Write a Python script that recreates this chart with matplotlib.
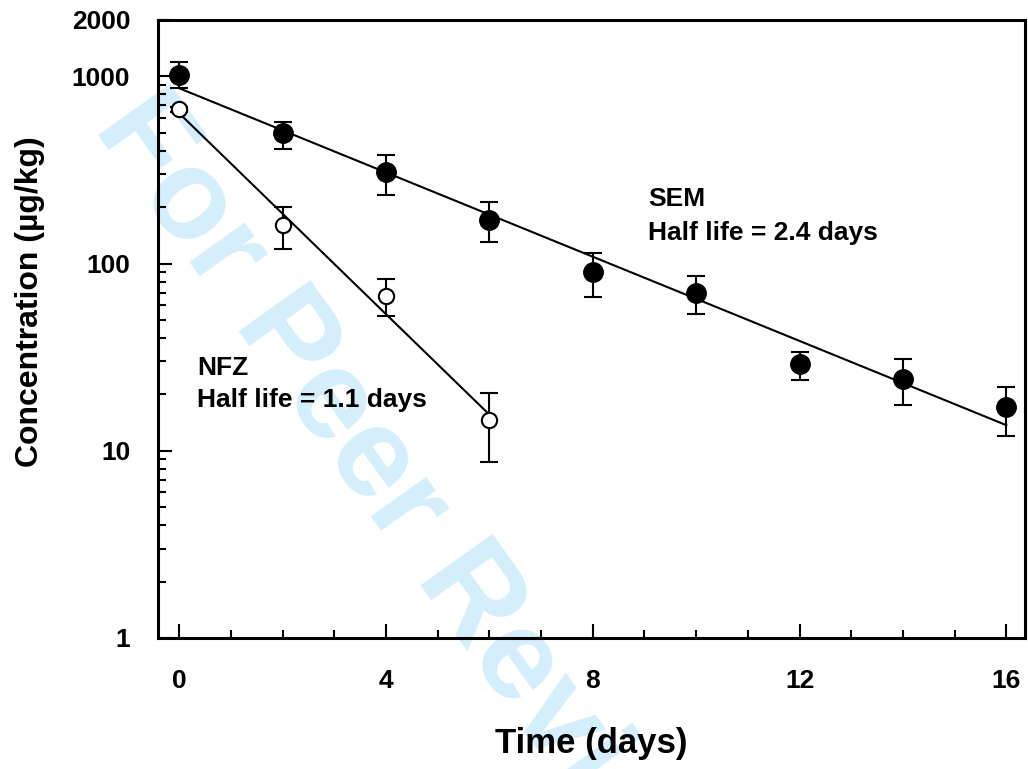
import matplotlib.pyplot as plt
from matplotlib.ticker import LogLocator, NullFormatter, FixedLocator

plt.rcParams['font.family'] = ['Liberation Sans', 'DejaVu Sans']
plt.rcParams['font.weight'] = 'bold'

# SEM (filled circles)
sem_t = [0, 2, 4, 6, 8, 10, 12, 14, 16]
sem_c = [1014, 497, 308, 171, 90, 69.5, 29, 24.1, 17.1]
sem_hi = [1190, 569, 379, 213, 114, 86, 33.6, 30.9, 21.9]
sem_lo = [864, 408, 232, 130, 66, 54, 23.8, 17.5, 12.0]

# NFZ (open circles)
nfz_t = [0, 2, 4, 6]
nfz_c = [667, 160, 67, 14.6]
nfz_hi = [690, 200, 82.6, 20.3]
nfz_lo = [645, 119, 52.4, 8.7]

# fitted first-order decay lines (end points)
sem_fit_t = [0, 16]
sem_fit_c = [864, 13.7]
nfz_fit_t = [0, 6]
nfz_fit_c = [635, 15.6]

fig = plt.figure(figsize=(10.28, 7.69), dpi=100)
ax = fig.add_axes([0.1537, 0.1704, 0.8433, 0.8036])
ax.set_facecolor('none')

# watermark, behind everything
fig.text(0.090, 0.834, 'For Peer Review', fontsize=92, color='#d4eefb',
         rotation=-54.5, rotation_mode='anchor', ha='left', va='baseline',
         fontweight='bold', zorder=-1)

ax.plot(sem_fit_t, sem_fit_c, color='black', lw=1.5, zorder=2)
ax.plot(nfz_fit_t, nfz_fit_c, color='black', lw=1.5, zorder=2)

sem_err = [[c - l for c, l in zip(sem_c, sem_lo)], [h - c for c, h in zip(sem_c, sem_hi)]]
nfz_err = [[c - l for c, l in zip(nfz_c, nfz_lo)], [h - c for c, h in zip(nfz_c, nfz_hi)]]

ax.errorbar(sem_t, sem_c, yerr=sem_err, fmt='o', color='black', ms=14,
            mfc='black', mec='black', ecolor='black', elinewidth=1.5,
            capsize=6.5, capthick=1.5, zorder=3)
ax.errorbar(nfz_t, nfz_c, yerr=nfz_err, fmt='o', color='black', ms=11,
            mfc='white', mec='black', mew=1.5, ecolor='black', elinewidth=1.5,
            capsize=6.5, capthick=1.5, zorder=3)

ax.set_yscale('log')
ax.set_ylim(1, 2000)
ax.set_xlim(-0.41, 16.36)

ax.xaxis.set_major_locator(FixedLocator([0, 4, 8, 12, 16]))
ax.xaxis.set_minor_locator(FixedLocator(range(0, 17)))
ax.yaxis.set_major_locator(FixedLocator([1, 10, 100, 1000, 2000]))
ax.yaxis.set_minor_locator(LogLocator(base=10, subs=range(2, 10)))
ax.yaxis.set_minor_formatter(NullFormatter())
ax.set_yticklabels(['1', '10', '100', '1000', '2000'])
ax.set_xticklabels(['0', '4', '8', '12', '16'])

ax.tick_params(which='major', direction='in', length=10, width=1.5,
               labelsize=19, pad=22)
ax.tick_params(which='minor', direction='in', length=6, width=1.5)
ax.tick_params(axis='y', which='major', pad=20)
for s in ax.spines.values():
    s.set_linewidth(2.2)

ax.set_xlabel('Time (days)', fontsize=25, fontweight='bold')
ax.set_ylabel('Concentration (µg/kg)', fontsize=23, fontweight='bold')
ax.xaxis.set_label_coords(0.5, -0.144)
ax.yaxis.set_label_coords(-0.130, 0.545)

ax.text(9.07, 179, 'SEM\nHalf life = 2.4 days', fontsize=19,
        fontweight='bold', ha='left', va='center', linespacing=1.5)
ax.text(0.35, 22.7, 'NFZ\nHalf life = 1.1 days', fontsize=19,
        fontweight='bold', ha='left', va='center', linespacing=1.4)

fig.savefig('out.png', dpi=100)
